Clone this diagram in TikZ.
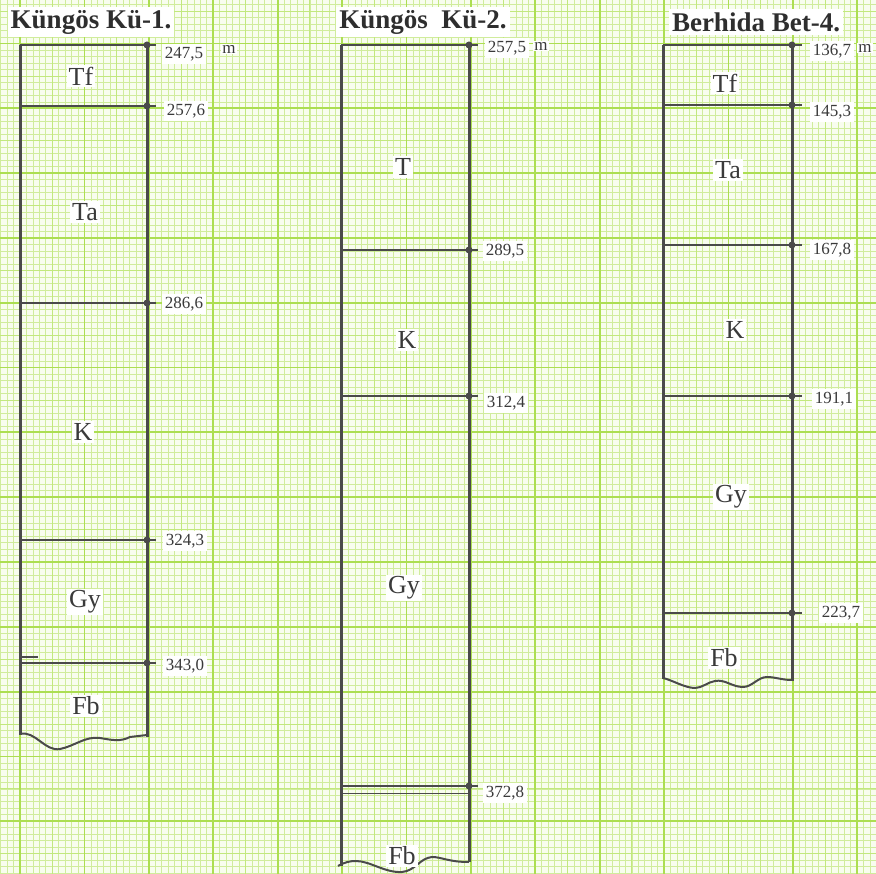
\documentclass[tikz,border=0pt]{standalone}
\usepackage{fontspec}
\setmainfont{Liberation Serif}
\definecolor{paper}{HTML}{F8FDEE}
\definecolor{gridminor}{HTML}{D0EC9C}
\definecolor{gridmid}{HTML}{C2E87E}
\definecolor{gridmajor}{HTML}{ACDE52}
\definecolor{pencil}{HTML}{4A4A4A}
\definecolor{textcol}{HTML}{3A3A3A}
\definecolor{titlecol}{HTML}{2E2E2E}
\begin{document}
\begin{tikzpicture}[x=1pt,y=-1pt,
  minor/.style={draw=gridminor,line width=0.6pt},
  midline/.style={draw=gridmid,line width=0.9pt},
  major/.style={draw=gridmajor,line width=1.8pt},
  well/.style={draw=pencil,line width=3pt},
  tickline/.style={draw=pencil,line width=2.6pt},
  blob/.style={fill=pencil},
  wave/.style={draw=pencil,line width=2pt},
  titlebox/.style={fill=white,inner sep=3pt,font=\fontsize{27}{30}\selectfont\bfseries,text=titlecol},
  layerbox/.style={fill=white,inner sep=2pt,font=\fontsize{26}{30}\selectfont,text=textcol},
  depthbox/.style={fill=white,inner sep=3pt,font=\fontsize{17}{20}\selectfont,text=textcol},
]
\useasboundingbox (0,0) rectangle (876,874);
\fill[paper] (0,0) rectangle (876,874);
% graph paper
\foreach \i in {-3,...,133} {\draw[minor] ({20+6.44*\i},0) -- ({20+6.44*\i},874);}
\foreach \j in {-7,...,128} {\draw[minor] (0,{43.6+6.48*\j}) -- (876,{43.6+6.48*\j});}
\foreach \i in {-1,...,27} {\draw[midline] ({20+32.2*\i},0) -- ({20+32.2*\i},874);}
\foreach \j in {-2,...,26} {\draw[midline] (0,{43.6+32.4*\j}) -- (876,{43.6+32.4*\j});}
\foreach \i in {-1,...,13} {\draw[major] ({20+64.4*\i},0) -- ({20+64.4*\i},874);}
\foreach \j in {-1,...,13} {\draw[major] (0,{43.6+64.8*\j}) -- (876,{43.6+64.8*\j});}

% ---------------- Column 1: Küngös Kü-1.
\draw[well] (20,45) -- (20,735);
\draw[well] (147,45) -- (147,737);
\draw[wave] (20,734) .. controls (35,730) and (45,752) .. (60,749)
  .. controls (75,746) and (85,736) .. (100,738)
  .. controls (112,740) and (120,742) .. (130,737) -- (147,735);
\foreach \y in {45,106,303,540,663} {
  \draw[tickline] (20,\y) -- (156,\y);
  \fill[blob] (147,\y) circle (3.5);
}
\draw[pencil,line width=1.2pt] (20,657) -- (38,657);
\node[titlebox] (ti1) at (91,22) {Küngös Kü-1.};
\node[depthbox] (d11) at (184,54) {247,5};
\node[depthbox,inner sep=1pt] (m1) at (229,49) {m};
\node[depthbox] (d12) at (186,111) {257,6};
\node[depthbox] (d13) at (184,304) {286,6};
\node[depthbox] (d14) at (185,541) {324,3};
\node[depthbox] (d15) at (185,666) {343,0};
\node[layerbox] (l11) at (81,76) {Tf};
\node[layerbox] (l12) at (85,212) {Ta};
\node[layerbox] (l13) at (83,432) {K};
\node[layerbox] (l14) at (85,602) {Gy};
\node[layerbox] (l15) at (86,706) {Fb};

% ---------------- Column 2: Küngös Kü-2.
\draw[well] (341,45) -- (341,866);
\draw[well] (469,45) -- (469,862);
\draw[wave] (338,866) .. controls (345,862) and (350,861) .. (356,861)
  .. controls (370,861) and (385,873) .. (402,872)
  .. controls (415,871) and (420,858) .. (432,857)
  .. controls (442,857) and (448,862) .. (469,862);
\foreach \y in {45,250,396,786} {
  \draw[tickline] (341,\y) -- (478,\y);
  \fill[blob] (469,\y) circle (3.5);
}
\draw[pencil,line width=1pt] (341,793) -- (469,793);
\node[titlebox] (ti2) at (423,22) {Küngös\ \ Kü-2.};
\node[depthbox] (d21) at (507,48) {257,5};
\node[depthbox,inner sep=1pt] (m2) at (541,46) {m};
\node[depthbox] (d22) at (505,251) {289,5};
\node[depthbox] (d23) at (506,403) {312,4};
\node[depthbox] (d24) at (505,793) {372,8};
\node[layerbox] (l21) at (403,167) {T};
\node[layerbox] (l22) at (407,340) {K};
\node[layerbox] (l23) at (404,588) {Gy};
\node[layerbox] (l24) at (402,856) {Fb};

% ---------------- Column 3: Berhida Bet-4.
\draw[well] (663,45) -- (663,679);
\draw[well] (792,45) -- (792,681);
\draw[wave] (663,678) .. controls (672,680) and (685,688) .. (695,688)
  .. controls (702,688) and (708,682) .. (715,681)
  .. controls (725,679) and (732,687) .. (743,687)
  .. controls (752,687) and (758,677) .. (767,677)
  .. controls (775,677) and (782,680) .. (792,680);
\foreach \y in {45,105,245,396,613} {
  \draw[tickline] (663,\y) -- (802,\y);
  \fill[blob] (792,\y) circle (3.5);
}
\node[titlebox] (ti3) at (756,22) {Berhida Bet-4.};
\node[depthbox] (d31) at (832,51) {136,7};
\node[depthbox,inner sep=1pt] (m3) at (865,48) {m};
\node[depthbox] (d32) at (832,112) {145,3};
\node[depthbox] (d33) at (832,250) {167,8};
\node[depthbox] (d34) at (834,399) {191,1};
\node[depthbox] (d35) at (841,613) {223,7};
\node[layerbox] (l31) at (725,83) {Tf};
\node[layerbox] (l32) at (728,170) {Ta};
\node[layerbox] (l33) at (735,330) {K};
\node[layerbox] (l34) at (731,497) {Gy};
\node[layerbox] (l35) at (724,658) {Fb};
\end{tikzpicture}
\end{document}
